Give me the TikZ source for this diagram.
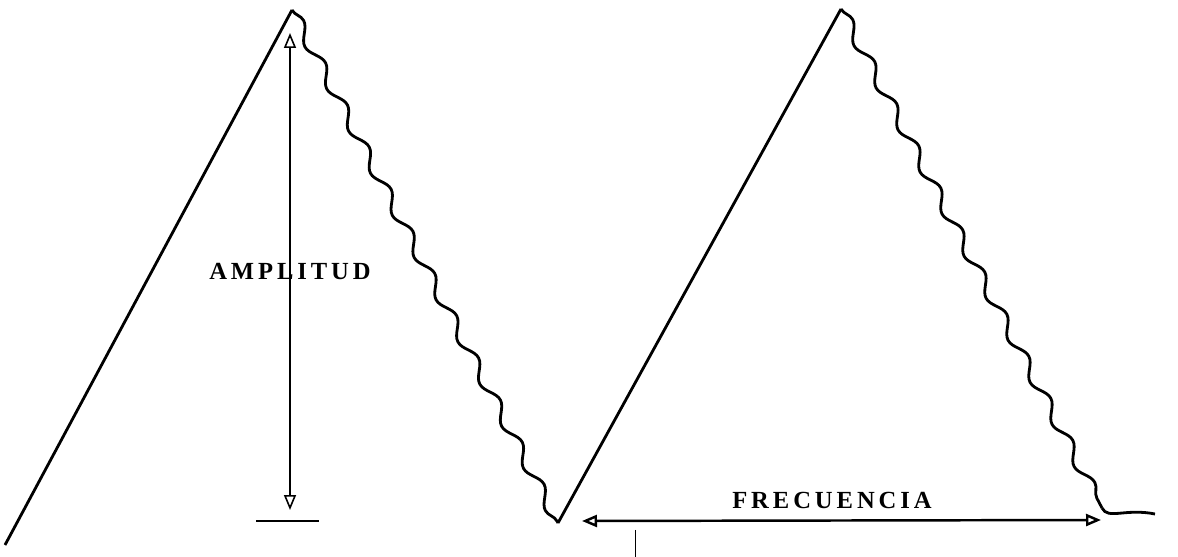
\documentclass[tikz,border=0pt]{standalone}
\usepackage{fontspec}
\setmainfont{Liberation Serif}[LetterSpace=16]
\usepackage{tikz}
\usetikzlibrary{decorations.pathmorphing}
\usetikzlibrary{positioning}
\usetikzlibrary{arrows.meta}

\begin{document}
\begin{tikzpicture}[x=0.02cm, y=-0.02cm, line width=1.6pt,
    every node/.style={inner sep=0pt, font=\fontsize{14}{16}\selectfont\bfseries},
    wave/.style={decorate, decoration={snake, segment length=0.95cm, amplitude=0.11cm}},
    measure/.style={line width=0.9pt, {Triangle[open, length=0.3cm, width=0.24cm]}-{Triangle[open, length=0.3cm, width=0.24cm]}}]
          \useasboundingbox (0,0) rectangle (1178,557);

          \coordinate (s0) at (5, 545);
          \coordinate (p1) at (292, 10);
          \coordinate (v1) at (558, 523);
          \coordinate (p2) at (841, 9);
          \coordinate (v2) at (1102, 508);
          \coordinate (e2) at (1155, 514);

          \draw (s0) -- (p1);
          \draw[wave] (p1) -- (v1);
          \draw (v1) -- (p2);
          \draw[wave] (p2) -- (v2);
          \draw (v2) .. controls (1108, 520) and (1125, 508) .. (e2);

          \coordinate (a1) at (290, 33);
          \coordinate (a2) at (290, 510);
          \coordinate (b1) at (256, 521);
          \coordinate (b2) at (319, 521);
          \draw[measure] (a1) -- (a2);
          \draw (b1) -- (b2);
          \node (amp) at (290, 271) {AMPLITUD};

          \coordinate (f1) at (582, 521);
          \coordinate (f2) at (1101, 520);
          \coordinate (t1) at (635, 530);
          \coordinate (t2) at (635, 557);
          \draw[measure, line width=1.4pt] (f1) -- (f2);
          \draw[line width=0.5pt] (t1) -- (t2);
          \node (frec) at (832, 500) {FRECUENCIA};
        \end{tikzpicture}
\end{document}
